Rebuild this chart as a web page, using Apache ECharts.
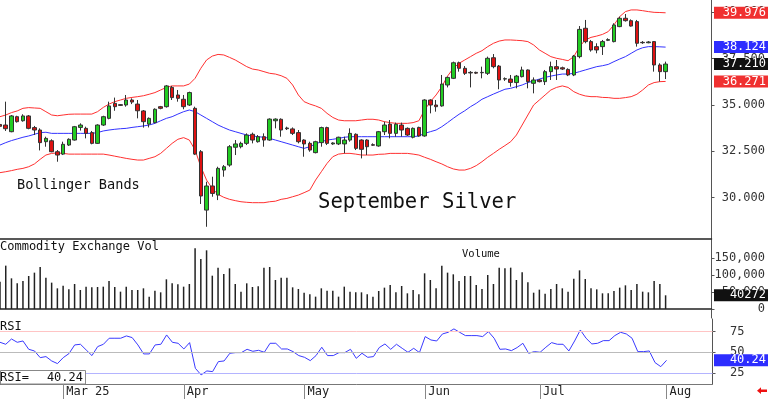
<!DOCTYPE html>
<html>
<head>
<meta charset="utf-8">
<script src="https://cdn.jsdelivr.net/npm/echarts@6/dist/echarts.min.js"></script>
<style>
  html, body { margin: 0; padding: 0; background: #fff; }
  #main { width: 768px; height: 399px; }
</style>
</head>
<body>
<div id="main"></div>
<script>
// trading days (last 8 are empty slots to the right of the last bar)
const dates = [
  "2025-02-13","2025-02-14","2025-02-18","2025-02-19","2025-02-20","2025-02-21","2025-02-24","2025-02-25","2025-02-26","2025-02-27","2025-02-28",
  "2025-03-03","2025-03-04","2025-03-05","2025-03-06","2025-03-07","2025-03-10","2025-03-11","2025-03-12","2025-03-13","2025-03-14",
  "2025-03-17","2025-03-18","2025-03-19","2025-03-20","2025-03-21","2025-03-24","2025-03-25","2025-03-26","2025-03-27","2025-03-28","2025-03-31",
  "2025-04-01","2025-04-02","2025-04-03","2025-04-04","2025-04-07","2025-04-08","2025-04-09","2025-04-10","2025-04-11","2025-04-14",
  "2025-04-15","2025-04-16","2025-04-17","2025-04-21","2025-04-22","2025-04-23","2025-04-24","2025-04-25","2025-04-28","2025-04-29","2025-04-30",
  "2025-05-01","2025-05-02","2025-05-05","2025-05-06","2025-05-07","2025-05-08","2025-05-09","2025-05-12","2025-05-13","2025-05-14",
  "2025-05-15","2025-05-16","2025-05-19","2025-05-20","2025-05-21","2025-05-22","2025-05-23","2025-05-27","2025-05-28","2025-05-29","2025-05-30",
  "2025-06-02","2025-06-03","2025-06-04","2025-06-05","2025-06-06","2025-06-09","2025-06-10","2025-06-11","2025-06-12","2025-06-13",
  "2025-06-16","2025-06-17","2025-06-18","2025-06-20","2025-06-23","2025-06-24","2025-06-25","2025-06-26","2025-06-27","2025-06-30",
  "2025-07-01","2025-07-02","2025-07-03","2025-07-07","2025-07-08","2025-07-09","2025-07-10","2025-07-11","2025-07-14","2025-07-15","2025-07-16",
  "2025-07-17","2025-07-18","2025-07-21","2025-07-22","2025-07-23","2025-07-24","2025-07-25","2025-07-28","2025-07-29","2025-07-30","2025-07-31",
  "2025-08-01",
  "2025-08-04","2025-08-05","2025-08-06","2025-08-07","2025-08-08","2025-08-11","2025-08-12","2025-08-13"
];

const tickDates = ["2025-03-03", "2025-04-01", "2025-05-01", "2025-06-02", "2025-07-01", "2025-08-01"];
const tickLabels = ["Mar 25", "Apr", "May", "Jun", "Jul", "Aug"];

const opens = [
  33.95,33.92,33.56,34.37,34.15,34.41,33.78,33.65,33.02,33.07,
  32.48,32.35,32.84,33.11,33.79,33.74,33.51,32.93,33.92,34.28,
  35.09,35.02,35.00,35.27,35.05,34.68,33.97,34.05,34.91,34.91,
  35.95,35.54,35.31,35.00,34.82,32.48,29.33,30.63,30.14,31.49,
  31.76,32.72,32.75,32.93,33.42,33.02,33.29,33.11,34.15,34.23,
  33.76,33.71,33.51,33.11,32.93,32.43,32.97,33.78,32.90,32.90,
  32.90,33.11,33.42,33.11,33.11,32.86,32.79,33.56,33.97,33.47,
  33.92,33.74,33.26,33.79,33.33,35.27,35.00,34.95,36.08,36.44,
  37.28,36.98,36.76,36.76,36.74,36.71,37.55,37.10,36.40,36.40,
  36.21,36.53,36.89,36.17,36.35,36.26,36.80,37.07,37.01,36.92,
  36.62,37.61,39.14,38.42,38.15,38.15,38.49,38.42,39.23,39.68,
  39.55,39.50,38.38,38.36,38.42,37.16,36.80
];
const closes = [
  33.85,33.72,34.41,34.10,34.41,33.74,33.65,32.97,33.20,32.48,
  32.30,32.88,33.15,33.83,33.92,33.47,32.93,33.92,34.37,34.95,
  34.91,34.98,35.27,35.16,34.69,34.10,34.28,34.77,34.82,36.03,
  35.40,35.36,34.91,35.67,32.35,30.09,30.63,30.23,31.58,31.67,
  32.75,32.90,32.93,33.38,33.11,33.29,33.11,34.24,34.24,33.65,
  33.72,33.47,33.02,32.90,32.57,33.02,33.78,32.93,32.95,33.26,
  33.11,33.47,32.66,32.61,32.75,32.83,33.56,33.92,33.47,33.96,
  33.65,33.38,33.74,33.33,35.27,35.00,34.91,36.13,36.49,37.28,
  36.98,36.71,36.73,36.72,36.76,37.52,37.07,36.35,36.42,36.22,
  36.56,36.89,36.26,36.35,36.26,36.80,37.07,36.94,36.94,36.62,
  37.64,39.08,38.42,37.97,37.97,38.42,38.53,39.32,39.68,39.55,
  39.26,38.33,38.36,38.40,37.16,36.80,37.21
];
const lows = [
  33.80,33.60,33.53,34.05,34.10,33.69,33.38,32.55,32.75,32.45,
  31.94,32.30,32.79,33.08,33.62,33.20,32.88,32.90,33.87,34.23,
  34.69,34.95,34.91,35.05,34.28,33.78,33.79,34.01,34.77,34.86,
  35.27,35.18,34.77,34.95,32.30,29.66,28.43,30.05,29.87,31.13,
  31.67,32.30,32.66,32.84,32.93,32.97,32.75,33.07,33.74,33.29,
  33.65,33.38,32.93,32.21,32.48,32.39,32.75,32.84,32.85,32.84,
  32.39,33.02,32.57,32.12,32.30,32.79,32.75,33.38,33.20,33.29,
  33.29,33.33,33.20,33.29,33.29,34.55,34.64,34.91,35.95,36.40,
  36.80,36.62,35.95,36.67,36.44,36.62,36.98,35.85,36.30,35.99,
  35.90,36.49,35.90,35.63,36.22,36.08,36.35,36.35,36.89,36.56,
  36.56,37.52,38.33,37.88,37.79,37.70,38.45,38.38,39.20,39.50,
  39.23,38.15,38.30,38.33,36.80,36.26,36.40
];
const highs = [
  34.00,35.18,34.46,34.42,34.50,34.46,33.87,33.74,33.29,33.15,
  32.57,33.02,33.20,33.87,34.01,33.83,33.60,33.96,34.42,35.18,
  35.40,35.05,35.54,35.36,35.27,34.73,34.33,34.82,34.95,36.08,
  36.03,35.81,35.54,35.72,34.91,32.57,30.86,31.13,31.67,31.76,
  32.84,33.11,33.02,33.47,33.51,33.38,33.47,34.28,34.28,34.28,
  33.83,33.79,33.65,33.15,33.02,33.07,33.83,33.83,32.99,33.29,
  33.29,33.74,33.47,33.15,33.15,32.93,33.60,34.10,34.19,34.05,
  34.05,33.79,33.79,33.83,35.31,35.31,35.27,36.62,36.53,37.34,
  37.34,37.10,36.83,36.80,37.07,37.61,37.75,37.16,36.49,36.62,
  36.62,37.07,36.92,36.49,36.40,36.89,37.34,37.43,37.07,36.98,
  37.70,39.26,39.59,38.51,38.33,38.51,38.60,39.41,39.77,39.91,
  39.62,39.59,38.45,38.45,38.45,37.25,37.34
];

// Bollinger bands
const bandUpper = [
  34.37,34.46,34.59,34.68,34.82,34.86,34.84,34.82,34.64,34.46,
  34.42,34.46,34.50,34.51,34.51,34.51,34.51,34.64,34.87,35.05,
  35.18,35.27,35.36,35.41,35.45,35.50,35.58,35.67,35.81,35.95,
  36.03,36.03,36.03,36.13,36.44,36.98,37.43,37.64,37.73,37.70,
  37.57,37.43,37.25,37.07,36.94,36.89,36.80,36.71,36.67,36.58,
  36.44,36.08,35.54,35.18,35.05,34.95,34.82,34.55,34.33,34.19,
  34.15,34.15,34.15,34.19,34.23,34.23,34.19,34.10,34.05,34.01,
  34.01,34.01,34.05,34.15,34.73,35.18,35.54,35.99,36.56,36.98,
  37.25,37.43,37.61,37.79,37.93,38.15,38.33,38.45,38.51,38.51,
  38.49,38.47,38.42,38.24,37.97,37.79,37.61,37.52,37.46,37.39,
  37.61,38.15,38.51,38.65,38.72,38.81,38.96,39.32,39.77,40.04,
  40.13,40.13,40.09,40.04,40.00,39.99,39.976
];
const bandMiddle = [
  32.84,32.97,33.08,33.17,33.26,33.33,33.42,33.51,33.53,33.47,
  33.47,33.47,33.47,33.47,33.47,33.47,33.47,33.51,33.60,33.65,
  33.69,33.72,33.74,33.79,33.83,33.87,33.92,34.01,34.15,34.28,
  34.37,34.51,34.64,34.73,34.64,34.46,34.28,34.10,33.92,33.78,
  33.65,33.56,33.47,33.38,33.33,33.29,33.26,33.20,33.11,33.02,
  32.93,32.84,32.75,32.66,32.75,32.90,33.02,33.11,33.15,33.20,
  33.26,33.29,33.29,33.29,33.29,33.29,33.29,33.29,33.29,33.29,
  33.29,33.29,33.29,33.33,33.47,33.56,33.65,33.83,34.05,34.28,
  34.50,34.69,34.91,35.09,35.31,35.45,35.59,35.72,35.85,35.90,
  35.99,36.08,36.21,36.30,36.40,36.49,36.56,36.62,36.67,36.67,
  36.71,36.80,36.89,36.98,37.07,37.12,37.19,37.34,37.48,37.61,
  37.79,37.97,38.09,38.15,38.15,38.14,38.124
];
const bandLower = [
  31.35,31.40,31.46,31.53,31.58,31.67,31.82,32.07,32.30,32.39,
  32.41,32.39,32.35,32.35,32.35,32.35,32.35,32.35,32.35,32.30,
  32.24,32.18,32.12,32.07,32.03,32.03,32.12,32.21,32.39,32.66,
  32.93,33.15,33.24,33.11,32.57,31.67,30.95,30.50,30.18,30.02,
  29.91,29.84,29.78,29.75,29.73,29.73,29.73,29.78,29.81,29.91,
  29.96,30.05,30.14,30.27,30.41,30.95,31.40,31.85,32.21,32.35,
  32.39,32.39,32.35,32.30,32.30,32.30,32.34,32.35,32.39,32.39,
  32.39,32.39,32.35,32.30,32.18,32.07,31.94,31.82,31.67,31.55,
  31.49,31.49,31.58,31.73,31.94,32.18,32.39,32.61,32.81,33.02,
  33.38,33.92,34.46,35.00,35.27,35.54,35.81,35.95,36.03,35.95,
  35.72,35.58,35.49,35.45,35.45,35.41,35.40,35.36,35.36,35.40,
  35.45,35.58,35.81,36.08,36.21,36.26,36.271
];

const volumes = [
  80000,127500,90200,75500,82400,97100,106900,123500,92200,77500,
  60800,68600,57800,73500,55900,65700,63700,64700,65700,82400,
  64700,51000,65700,55900,55900,60800,36300,53900,49000,87300,
  75500,72600,65700,73500,178400,147100,172600,98000,121600,102900,
  119600,73500,51000,75500,64700,66700,121600,123500,85300,92200,
  92200,63700,58800,48000,43100,36300,60800,53900,53900,36300,
  65700,51000,49000,49000,43100,36300,52900,62800,70600,49000,
  67700,46100,55900,43100,104900,85300,60800,127500,106900,102000,
  82400,97100,97100,70600,58800,100000,73500,121600,119600,121600,
  85300,107800,78400,48000,56900,45100,58800,73500,60800,51000,
  89200,113700,88200,60800,57800,46100,46100,52900,62800,69600,
  55900,73500,51000,49000,82400,73500,40272
];

const rsi = [
  62.1,59.7,66.1,62.1,63.7,53.6,51.6,43.5,44.8,39.5,
  36.3,43.5,48.4,58.9,59.7,52.8,46.0,56.9,59.7,67.0,
  67.0,67.0,69.8,67.8,58.9,48.0,48.0,58.9,59.7,71.0,
  62.1,60.9,54.0,61.7,30.6,22.6,27.4,26.6,38.7,39.5,
  48.8,49.6,49.6,53.6,51.2,52.4,50.0,60.9,60.9,54.0,
  54.0,50.8,46.0,43.9,39.9,46.0,56.1,46.0,46.0,49.6,
  49.6,53.6,42.7,48.8,43.9,44.8,55.7,60.1,53.6,59.7,
  54.8,50.0,54.8,49.6,69.0,64.9,63.7,72.2,74.2,78.3,
  74.2,70.2,70.2,70.2,69.0,75.0,67.0,53.6,54.0,52.0,
  55.7,60.9,48.8,50.8,50.0,56.1,61.7,59.7,59.7,51.6,
  63.7,77.0,67.0,60.1,60.9,64.1,64.1,70.2,74.2,72.2,
  67.0,50.8,50.8,51.6,37.5,32.6,40.24
];

const priceTicks = [30, 32.5, 35, 37.5, 40];
const volumeTicks = [0, 50000, 100000, 150000];
const rsiTicks = [25, 50, 75];

const MONO = '"DejaVu Sans Mono", "Liberation Mono", monospace';
const last = closes.length - 1;

const myChart = echarts.init(document.getElementById("main"));

const isTick = (idx, val) => tickDates.indexOf(val) >= 0;

const hiddenX = (gridIndex, lineColor, lineWidth) => ({
  type: "category",
  gridIndex,
  data: dates,
  boundaryGap: false,
  axisLine: { show: true, lineStyle: { color: lineColor, width: lineWidth } },
  axisTick: { show: false },
  axisLabel: { show: false },
  splitLine: { show: false },
});

const rightY = (gridIndex, min, max, ticks, labelOpt) => ({
  type: "value",
  gridIndex,
  position: "right",
  min,
  max,
  axisLine: { show: true, lineStyle: { color: "#555", width: 1 } },
  axisTick: { show: true, length: 3, customValues: ticks, lineStyle: { color: "#555" } },
  splitLine: { show: false },
  axisLabel: Object.assign(
    { customValues: ticks, color: "#333", fontFamily: MONO, fontSize: 12 },
    labelOpt
  ),
});

const option = {
  animation: false,
  backgroundColor: "#fff",
  grid: [
    { left: -1.5, width: 714, top: 0, height: 238.5 },
    { left: -1.5, width: 714, top: 239.5, height: 78.5 },
    { left: -1.5, width: 714, top: 319, height: 65 },
  ],
  xAxis: [
    hiddenX(0, "#222", 1.5),
    hiddenX(1, "#222", 1.5),
    {
      type: "category",
      gridIndex: 2,
      data: dates,
      boundaryGap: false,
      axisLine: { show: true, lineStyle: { color: "#777", width: 1 } },
      axisTick: { show: true, interval: isTick, length: 15, lineStyle: { color: "#888" } },
      axisLabel: {
        interval: isTick,
        formatter: (val) => tickLabels[tickDates.indexOf(val)],
        align: "left",
        padding: [0, 0, 0, 3],
        margin: 2,
        color: "#222",
        fontFamily: MONO,
        fontSize: 12,
      },
      splitLine: { show: false },
    },
  ],
  yAxis: [
    rightY(0, 27.797, 40.666, priceTicks, {
      align: "right",
      margin: 53.5,
      formatter: (v) => v.toFixed(3),
    }),
    rightY(1, -26471, 204412, volumeTicks, { align: "right", margin: 53.5 }),
    rightY(2, 11.6, 90.3, rsiTicks, { align: "left", margin: 17.5 }),
  ],
  series: [
    {
      type: "line",
      name: "upper",
      xAxisIndex: 0,
      yAxisIndex: 0,
      data: bandUpper,
      showSymbol: false,
      lineStyle: { color: "#ff3030", width: 1 },
      silent: true,
      z: 1,
    },
    {
      type: "line",
      name: "middle",
      xAxisIndex: 0,
      yAxisIndex: 0,
      data: bandMiddle,
      showSymbol: false,
      lineStyle: { color: "#3333ff", width: 1 },
      silent: true,
      z: 1,
    },
    {
      type: "line",
      name: "lower",
      xAxisIndex: 0,
      yAxisIndex: 0,
      data: bandLower,
      showSymbol: false,
      lineStyle: { color: "#ff3030", width: 1 },
      silent: true,
      z: 1,
    },
    {
      type: "candlestick",
      name: "September Silver",
      xAxisIndex: 0,
      yAxisIndex: 0,
      data: opens.map((o, i) => [o, closes[i], lows[i], highs[i]]),
      barWidth: 4,
      itemStyle: {
        color: "#22cc22",
        color0: "#dd1111",
        borderColor: "#333",
        borderColor0: "#333",
        borderWidth: 1,
      },
      z: 3,
    },
    {
      type: "bar",
      name: "Volume",
      xAxisIndex: 1,
      yAxisIndex: 1,
      data: volumes,
      barWidth: 1.5,
      itemStyle: { color: "#222" },
    },
    {
      type: "line",
      name: "RSI",
      xAxisIndex: 2,
      yAxisIndex: 2,
      data: rsi,
      showSymbol: false,
      lineStyle: { color: "#3a3aff", width: 1 },
      markLine: {
        silent: true,
        symbol: "none",
        label: { show: false },
        data: [
          { yAxis: 75, lineStyle: { color: "#ffc4c4", type: "solid", width: 1 } },
          { yAxis: 50, lineStyle: { color: "#bbbbbb", type: "solid", width: 1 } },
          { yAxis: 25, lineStyle: { color: "#b4b4ff", type: "solid", width: 1 } },
        ],
      },
      z: 3,
    },
  ],
};

myChart.setOption(option);

// captions and boxed read-outs (text always above its box)
const txt = (text, x, y, size, extra) => ({
  type: "text",
  z: 80,
  style: Object.assign(
    { text, x, y, fill: "#111", font: size + "px " + MONO, textAlign: "left", textVerticalAlign: "middle" },
    extra || {}
  ),
});

const valueBox = (yAxisIndex, value, text, bg) => {
  const y = myChart.convertToPixel({ yAxisIndex }, value);
  return [
    { type: "rect", z: 60, shape: { x: 714, y: y - 6, width: 54, height: 12 }, style: { fill: bg } },
    txt(text, 766, y, 12, { fill: "#fff", textAlign: "right" }),
  ];
};

const graphics = [
  txt("Bollinger Bands", 17, 185, 13.6),
  txt("September Silver", 318, 203, 20.6),
  txt("Commodity Exchange Vol", 0, 247, 12),
  txt("Volume", 462, 254, 10.5),
  txt("RSI", 0, 327, 12),
  {
    type: "rect",
    z: 55,
    shape: { x: 0.5, y: 370.5, width: 85, height: 13.5 },
    style: { fill: "#fff", stroke: "#888", lineWidth: 1 },
  },
  txt("RSI=", 0, 378, 12),
  txt(rsi[last].toFixed(2), 83, 378, 12, { textAlign: "right" }),
  {
    type: "polygon",
    z: 60,
    shape: {
      points: [[757, 390.7], [761, 387.3], [761, 389.5], [767, 389.5], [767, 392], [761, 392], [761, 394]],
    },
    style: { fill: "#ee1111" },
  },
]
  .concat(valueBox(0, bandUpper[last], bandUpper[last].toFixed(3), "#f03030"))
  .concat(valueBox(0, bandMiddle[last], bandMiddle[last].toFixed(3), "#2d2dff"))
  .concat(valueBox(0, closes[last], closes[last].toFixed(3), "#111"))
  .concat(valueBox(0, bandLower[last], bandLower[last].toFixed(3), "#f03030"))
  .concat(valueBox(1, volumes[last], String(volumes[last]), "#111"))
  .concat(valueBox(2, rsi[last], rsi[last].toFixed(2), "#2d2dff"));

myChart.setOption({ graphic: graphics });
</script>
</body>
</html>
